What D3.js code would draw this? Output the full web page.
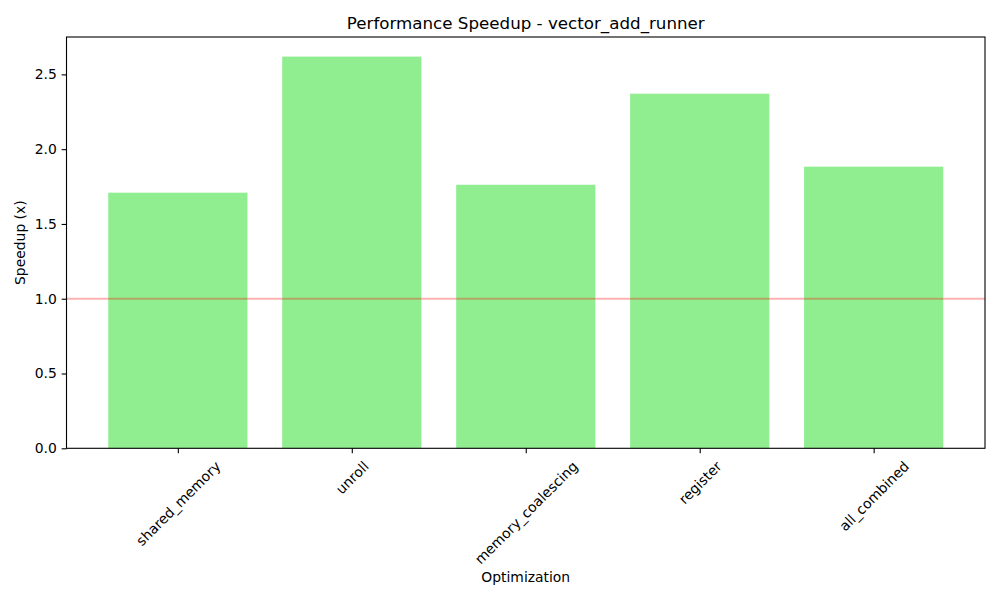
<!DOCTYPE html>
<html><head><meta charset="utf-8">
<script src="https://cdn.jsdelivr.net/npm/d3@7"></script>
<style>body{margin:0;background:#fff}svg{display:block}text{font-family:"DejaVu Sans",sans-serif;fill:#000}</style>
</head><body><svg id="c" width="1000" height="600"></svg>
<script>
const categories = ["shared_memory","unroll","memory_coalescing","register","all_combined"];
const speedups = [1.709, 2.619, 1.762, 2.371, 1.883];
const yTicks = [0.0, 0.5, 1.0, 1.5, 2.0, 2.5];
const baseline = 1.0;

const svg = d3.select("#c");
const L = 66.5, R = 985, T = 37, B = 448.3;
const n = categories.length;
const x = d3.scaleLinear().domain([-0.4 - 0.24, n - 1 + 0.4 + 0.24]).range([L, R]);
const y = d3.scaleLinear().domain([0, d3.max(speedups) * 1.05]).range([B, T]);
const fs = 13.9;

svg.append("g").selectAll("rect").data(speedups).join("rect")
  .attr("x", (d,i) => x(i - 0.4)).attr("width", (d,i) => x(i + 0.4) - x(i - 0.4))
  .attr("y", d => y(d)).attr("height", d => y(0) - y(d)).attr("fill", "#90ee90");

svg.append("line").attr("x1", L).attr("x2", R).attr("y1", y(baseline)).attr("y2", y(baseline))
  .attr("stroke", "red").attr("stroke-opacity", 0.3).attr("stroke-width", 2.08);

// frame
svg.append("rect").attr("x", L).attr("y", T).attr("width", R - L).attr("height", B - T)
  .attr("fill", "none").attr("stroke", "#000").attr("stroke-width", 1.1);

// y axis
const yAxis = svg.append("g").attr("transform", `translate(${L},0)`)
  .call(d3.axisLeft(y).tickValues(yTicks).tickFormat(d3.format(".1f")).tickSize(4.86).tickPadding(4.86));
yAxis.select(".domain").remove();
yAxis.selectAll("line").attr("stroke", "#000").attr("stroke-width", 1.1);
yAxis.selectAll("text").style("font-size", fs + "px").style("font-family", '"DejaVu Sans"');

// x axis
const xAxis = svg.append("g").attr("transform", `translate(0,${B})`)
  .call(d3.axisBottom(x).tickValues(d3.range(n)).tickFormat(i => categories[i]).tickSize(4.86).tickPadding(4.86));
xAxis.select(".domain").remove();
xAxis.selectAll("line").attr("stroke", "#000").attr("stroke-width", 1.1);
xAxis.selectAll("text").each(function(){
  const t = d3.select(this);
  t.style("font-size", fs + "px").style("font-family", '"DejaVu Sans"');
  const w = this.getComputedTextLength();
  const h = fs * 1.17;
  const bh = (w + h) * Math.SQRT1_2;
  const top = 4.86 + 4.86;
  t.attr("y", null).attr("dy", "0.35em").attr("text-anchor", "middle")
   .attr("transform", `translate(0,${top + bh/2}) rotate(-45)`);
});

svg.append("text").attr("x", (L + R) / 2).attr("y", 582).attr("text-anchor", "middle")
  .style("font-size", fs + "px").text("Optimization");
svg.append("text").attr("transform", `translate(25,${(T + B) / 2}) rotate(-90)`).attr("text-anchor", "middle")
  .style("font-size", fs + "px").text("Speedup (x)");
svg.append("text").attr("x", (L + R) / 2).attr("y", 29).attr("text-anchor", "middle")
  .style("font-size", "16.7px").text("Performance Speedup - vector_add_runner");
</script></body></html>
